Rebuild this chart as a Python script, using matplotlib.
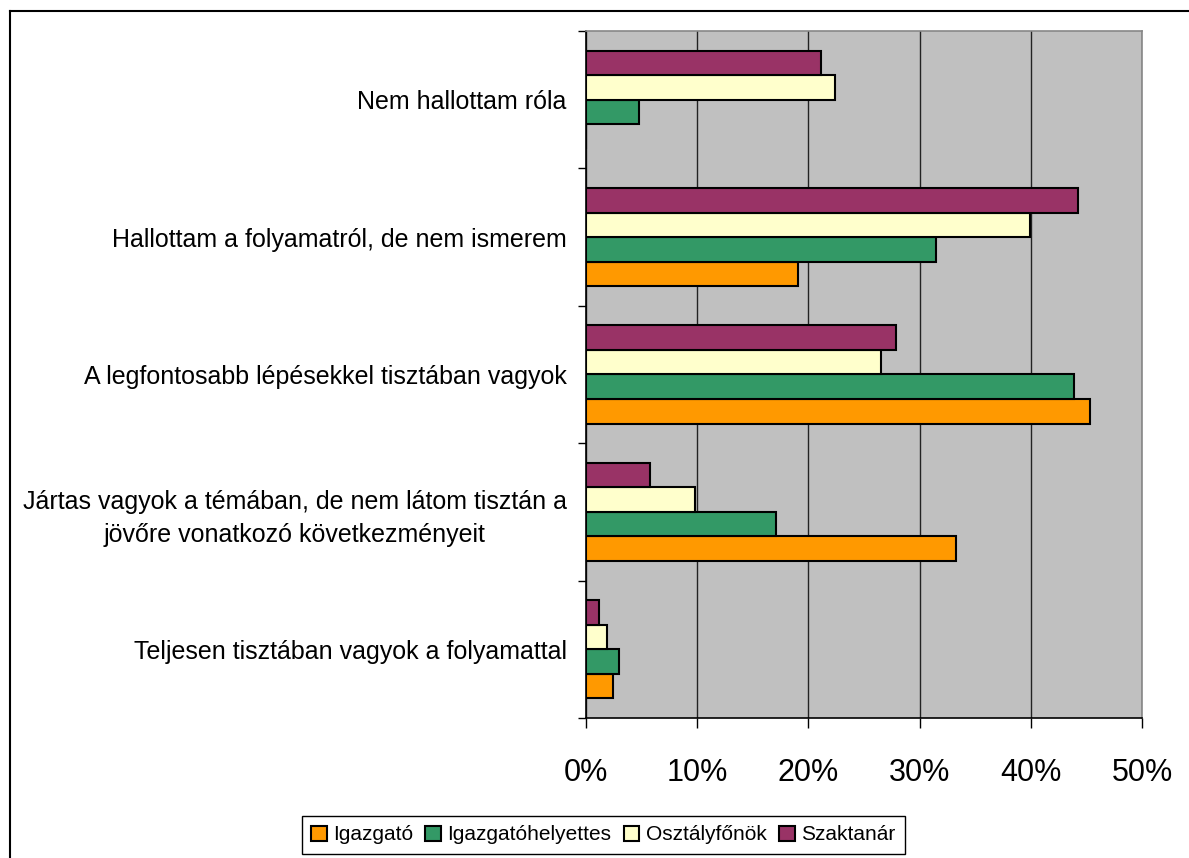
import numpy as np
import matplotlib
matplotlib.use("Agg")
from matplotlib import pyplot as plt
from matplotlib.lines import Line2D

plt.rcParams['font.family'] = ['Liberation Sans', 'DejaVu Sans']

categories = [
    'Nem hallottam róla',
    'Hallottam a folyamatról, de nem ismerem',
    'A legfontosabb lépésekkel tisztában vagyok',
    'Jártas vagyok a témában, de nem látom tisztán a\njövőre vonatkozó következményeit',
    'Teljesen tisztában vagyok a folyamattal',
]
series_names = ['Igazgató', 'Igazgatóhelyettes', 'Osztályfőnök', 'Szaktanár']
igazgato = [0.0, 19.1, 45.3, 33.3, 2.4]
igazgatohelyettes = [4.8, 31.5, 43.9, 17.1, 3.0]
osztalyfonok = [22.4, 39.9, 26.5, 9.8, 1.9]
szaktanar = [21.1, 44.2, 27.9, 5.8, 1.2]
colors = ['#FF9900', '#339966', '#FFFFCC', '#993366']
x_ticks = [0, 10, 20, 30, 40, 50]

fig = plt.figure(figsize=(11.89, 8.58), dpi=100)
ax = fig.add_axes([586 / 1189, 1 - 718 / 858, (1142 - 586) / 1189, (718 - 31) / 858])
ax.set_facecolor('#C0C0C0')

h = 0.179
y = np.arange(len(categories))
offsets = [1.5 * h, 0.5 * h, -0.5 * h, -1.5 * h]
for vals, name, col, off in zip([igazgato, igazgatohelyettes, osztalyfonok, szaktanar],
                                series_names, colors, offsets):
    ax.barh(y + off, vals, height=h, color=col, edgecolor='black', linewidth=1.5,
            label=name, zorder=3)

ax.set_xlim(0, 50)
ax.set_ylim(len(categories) - 0.5, -0.5)
ax.set_xticks(x_ticks)
ax.set_xticklabels([f'{t}%' for t in x_ticks], fontsize=22)
ax.tick_params(axis='x', direction='out', length=7, width=1, pad=22, color='black')
ax.xaxis.grid(True, color='#222222', linewidth=1, zorder=1)

ax.set_yticks(y)
ax.set_yticklabels(categories, fontsize=18)
ax.tick_params(axis='y', which='major', length=0, pad=14)
for lab in ax.get_yticklabels():
    lab.set_multialignment('center')
    lab.set_linespacing(1.45)
ax.set_yticks(np.arange(-0.5, len(categories)), minor=True)
ax.tick_params(axis='y', which='minor', direction='out', length=6, width=1, color='black')

ax.spines['left'].set_color('black')
ax.spines['bottom'].set_color('black')
ax.spines['top'].set_color('#888888')
ax.spines['right'].set_color('#888888')
for s in ax.spines.values():
    s.set_linewidth(1.2)

# outer chart border (only top and left edge visible)
fig.add_artist(Line2D([10 / 1189, 10 / 1189], [0, 1 - 11 / 858], color='black', linewidth=1.5,
                      transform=fig.transFigure))
fig.add_artist(Line2D([10 / 1189, 1], [1 - 11 / 858, 1 - 11 / 858], color='black', linewidth=1.5,
                      transform=fig.transFigure))

handles, labels = ax.get_legend_handles_labels()
leg = fig.legend(handles, labels, loc='center', bbox_to_anchor=(603 / 1189, 1 - 835 / 858),
                 ncol=4, fontsize=15, fancybox=False, frameon=True, edgecolor='black',
                 handlelength=0.75, handleheight=0.75, handletextpad=0.3, columnspacing=0.6,
                 borderpad=0.45, framealpha=1)
leg.get_frame().set_linewidth(1)

fig.savefig('out.png', dpi=100)
